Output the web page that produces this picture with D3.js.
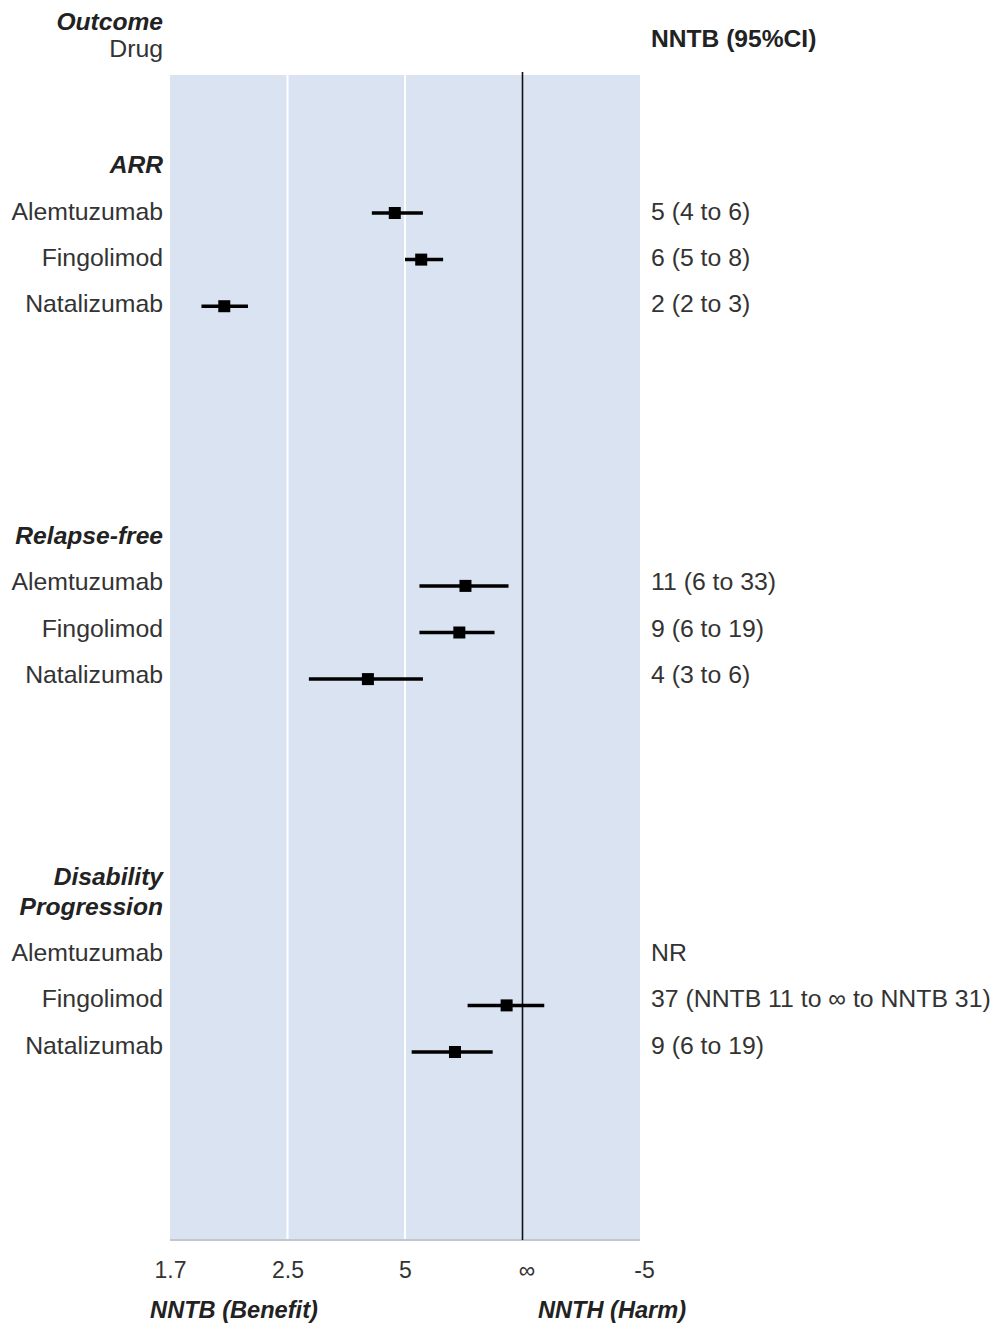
<!DOCTYPE html>
<html>
<head>
<meta charset="utf-8">
<script src="https://cdn.jsdelivr.net/npm/d3@7"></script>
<style>
  html, body { margin: 0; padding: 0; background: #fff; }
  svg { display: block; font-family: "Liberation Sans", Arial, sans-serif; }
</style>
</head>
<body>
<svg id="chart" width="1000" height="1327"></svg>
<script>
// Outcome groups and drugs
const outcomes = [["ARR"], ["Relapse-free"], ["Disability", "Progression"]];
const drugs = ["Alemtuzumab", "Fingolimod", "Natalizumab"];

// Number needed to treat: positive = benefit (NNTB), negative = harm (NNTH); null = not reported
const nntPoint = [
  [4.6, 5.8, 1.97],
  [10.3, 9.3, 3.8],
  [null, 37, 8.7]
];
const nntLower = [
  [3.9, 5.0, 1.83],
  [5.7, 5.7, 2.75],
  [null, 10.7, 5.3]
];
const nntUpper = [
  [5.9, 7.4, 2.14],
  [42, 21, 5.9],
  [null, -27, 19.7]
];
const nntText = [
  ["5 (4 to 6)", "6 (5 to 8)", "2 (2 to 3)"],
  ["11 (6 to 33)", "9 (6 to 19)", "4 (3 to 6)"],
  ["NR", "37 (NNTB 11 to \u221E to NNTB 31)", "9 (6 to 19)"]
];

// Axis: linear in absolute risk difference (1/NNT)
const tickRisk = [0.6, 0.4, 0.2, 0, -0.2];
const tickLabels = ["1.7", "2.5", "5", "\u221E", "-5"];

const svg = d3.select("#chart");
const plot = { left: 170, right: 640, top: 75, bottom: 1240 };
const bodySize = 24.8;
const headSize = 24.6;

const x = d3.scaleLinear().domain([0.6, -0.2]).range([plot.left, plot.right]);
const toX = nnt => x(1 / nnt);

// row index: each outcome block takes 8 rows
const rowOf = (g, i) => g * 8 + i;
const yText = d3.scaleLinear().domain([0, 18]).range([211, 1045]);
const yMark = d3.scaleLinear().domain([0, 18]).range([213, 1052]);

// background panel
svg.append("rect")
  .attr("x", plot.left).attr("y", plot.top)
  .attr("width", plot.right - plot.left).attr("height", plot.bottom - plot.top)
  .attr("fill", "#dae3f2");

// grid lines
svg.append("g").selectAll("line")
  .data([0.4, 0.2])
  .join("line")
  .attr("x1", d => x(d)).attr("x2", d => x(d))
  .attr("y1", plot.top).attr("y2", plot.bottom)
  .attr("stroke", "#fff").attr("stroke-width", 2);

svg.append("line")
  .attr("x1", plot.left).attr("x2", plot.right)
  .attr("y1", plot.bottom).attr("y2", plot.bottom)
  .attr("stroke", "#c3c8cf").attr("stroke-width", 2);

// line of no effect
svg.append("line")
  .attr("x1", x(0)).attr("x2", x(0))
  .attr("y1", plot.top - 3).attr("y2", plot.bottom)
  .attr("stroke", "#111").attr("stroke-width", 1.6);

// x axis
const axis = d3.axisBottom(x)
  .tickValues(tickRisk)
  .tickFormat((d, i) => tickLabels[i])
  .tickSize(0)
  .tickPadding(0);
const gAxis = svg.append("g")
  .attr("transform", `translate(0,${plot.bottom + 22})`)
  .call(axis);
gAxis.select(".domain").remove();
gAxis.selectAll("text")
  .attr("font-size", 23)
  .attr("fill", "#333")
  .attr("font-family", "Liberation Sans, Arial, sans-serif")
  .attr("dx", (d, i) => (i >= 3 ? 4 : 0));

// axis titles
svg.append("text")
  .attr("x", 234).attr("y", 1318)
  .attr("text-anchor", "middle")
  .attr("font-size", 23.6).attr("font-weight", "bold").attr("font-style", "italic")
  .attr("fill", "#222")
  .text("NNTB (Benefit)");
svg.append("text")
  .attr("x", 612).attr("y", 1318)
  .attr("text-anchor", "middle")
  .attr("font-size", 23.6).attr("font-weight", "bold").attr("font-style", "italic")
  .attr("fill", "#222")
  .text("NNTH (Harm)");

// column headers
svg.append("text")
  .attr("x", 163).attr("y", 30)
  .attr("text-anchor", "end")
  .attr("font-size", headSize).attr("font-weight", "bold").attr("font-style", "italic")
  .attr("fill", "#222")
  .text("Outcome");
svg.append("text")
  .attr("x", 163).attr("y", 57)
  .attr("text-anchor", "end")
  .attr("font-size", bodySize)
  .attr("fill", "#333")
  .text("Drug");
svg.append("text")
  .attr("x", 651).attr("y", 47)
  .attr("text-anchor", "start")
  .attr("font-size", headSize).attr("font-weight", "bold")
  .attr("fill", "#222")
  .text("NNTB (95%CI)");

// outcome headers
outcomes.forEach((lines, g) => {
  const base = yText(rowOf(g, -1));
  lines.forEach((t, k) => {
    svg.append("text")
      .attr("x", 163)
      .attr("y", base - (lines.length - 1 - k) * 30)
      .attr("dy", "0.35em")
      .attr("text-anchor", "end")
      .attr("font-size", headSize).attr("font-weight", "bold").attr("font-style", "italic")
      .attr("fill", "#222")
      .text(t);
  });
});

// rows
const rows = [];
outcomes.forEach((_, g) => {
  drugs.forEach((drug, i) => {
    rows.push({
      g, i, drug,
      point: nntPoint[g][i], lo: nntLower[g][i], hi: nntUpper[g][i],
      label: nntText[g][i]
    });
  });
});

svg.append("g").selectAll("text")
  .data(rows)
  .join("text")
  .attr("x", 163)
  .attr("y", d => yText(rowOf(d.g, d.i)))
  .attr("dy", "0.35em")
  .attr("text-anchor", "end")
  .attr("font-size", bodySize)
  .attr("fill", "#333")
  .text(d => d.drug);

svg.append("g").selectAll("text")
  .data(rows)
  .join("text")
  .attr("x", 651)
  .attr("y", d => yText(rowOf(d.g, d.i)))
  .attr("dy", "0.35em")
  .attr("text-anchor", "start")
  .attr("font-size", bodySize)
  .attr("fill", "#333")
  .text(d => d.label);

const marks = rows.filter(d => d.point !== null);

svg.append("g").selectAll("line")
  .data(marks)
  .join("line")
  .attr("x1", d => toX(d.lo)).attr("x2", d => toX(d.hi))
  .attr("y1", d => yMark(rowOf(d.g, d.i))).attr("y2", d => yMark(rowOf(d.g, d.i)))
  .attr("stroke", "#000").attr("stroke-width", 3.5);

const sq = 12;
svg.append("g").selectAll("rect")
  .data(marks)
  .join("rect")
  .attr("x", d => toX(d.point) - sq / 2)
  .attr("y", d => yMark(rowOf(d.g, d.i)) - sq / 2)
  .attr("width", sq).attr("height", sq)
  .attr("fill", "#000");
</script>
</body>
</html>
